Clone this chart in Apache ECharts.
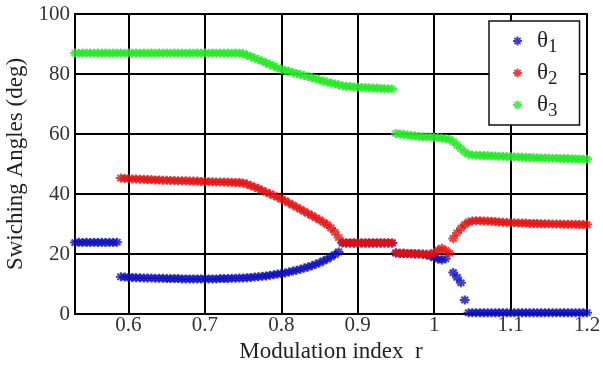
<!DOCTYPE html>
<html>
<head>
<meta charset="utf-8">
<script src="https://cdn.jsdelivr.net/npm/echarts@6/dist/echarts.min.js"></script>
<style>
html,body{margin:0;padding:0;background:#fff;}
#c{width:603px;height:366px;}
</style>
</head>
<body>
<div id="c"></div>
<script>
// Modulation index r (x values)
const r = [
  0.530,0.535,0.540,0.545,0.550,0.555,0.560,0.565,0.570,0.575,
  0.580,0.585,0.590,0.595,0.600,0.605,0.610,0.615,0.620,0.625,
  0.630,0.635,0.640,0.645,0.650,0.655,0.660,0.665,0.670,0.675,
  0.680,0.685,0.690,0.695,0.700,0.705,0.710,0.715,0.720,0.725,
  0.730,0.735,0.740,0.745,0.750,0.755,0.760,0.765,0.770,0.775,
  0.780,0.785,0.790,0.795,0.800,0.805,0.810,0.815,0.820,0.825,
  0.830,0.835,0.840,0.845,0.850,0.855,0.860,0.865,0.870,0.875,
  0.880,0.885,0.890,0.895,0.900,0.905,0.910,0.915,0.920,0.925,
  0.930,0.935,0.940,0.945,0.950,0.955,0.960,0.965,0.970,0.975,
  0.980,0.985,0.990,0.995,1.000,1.005,1.010,1.015,1.020,1.025,
  1.030,1.035,1.040,1.045,1.050,1.055,1.060,1.065,1.070,1.075,
  1.080,1.085,1.090,1.095,1.100,1.105,1.110,1.115,1.120,1.125,
  1.130,1.135,1.140,1.145,1.150,1.155,1.160,1.165,1.170,1.175,
  1.180,1.185,1.190,1.195,1.200
];
const theta1 = [
  23.8,23.9,23.8,23.9,23.8,23.9,23.8,23.9,23.8,23.9,
  23.8,23.9,12.4,12.3,12.2,12.2,12.1,12.1,12.0,12.0,
  12.0,11.9,11.9,11.9,11.8,11.8,11.8,11.8,11.7,11.7,
  11.7,11.7,11.7,11.7,11.7,11.7,11.7,11.7,11.8,11.8,
  11.8,11.9,11.9,12.0,12.0,12.1,12.2,12.3,12.4,12.6,
  12.7,12.9,13.1,13.3,13.5,13.7,14.0,14.3,14.6,14.9,
  15.3,15.7,16.1,16.6,17.1,17.7,18.3,19.0,19.8,20.7,
  23.7,23.7,23.7,23.7,23.7,23.7,23.7,23.7,23.7,23.7,
  23.7,23.7,23.7,23.7,20.3,20.2,20.2,20.1,20.1,20.0,
  20.0,19.9,19.7,19.3,18.8,18.3,18.0,18.4,null,13.8,
  12.2,10.4,4.7,0.4,0.4,0.4,0.4,0.4,0.4,0.4,
  0.4,0.4,0.4,0.4,0.4,0.4,0.4,0.4,0.4,0.4,
  0.4,0.4,0.4,0.4,0.4,0.4,0.4,0.4,0.4,0.4,
  0.4,0.4,0.4,0.4,0.4
];
const theta2 = [
  null,null,null,null,null,null,null,null,null,null,
  null,null,45.3,45.2,45.1,45.0,45.0,44.9,44.9,44.8,
  44.8,44.7,44.7,44.6,44.6,44.5,44.5,44.4,44.4,44.4,
  44.3,44.3,44.3,44.2,44.2,44.1,44.1,44.0,44.0,44.0,
  43.9,43.9,43.8,43.8,43.7,43.3,42.8,42.3,41.8,41.2,
  40.6,40.1,39.5,38.9,38.3,37.7,37.0,36.3,35.6,34.9,
  34.2,33.5,32.8,32.1,31.4,30.6,29.8,28.7,27.3,25.5,
  23.8,23.7,23.7,23.7,23.7,23.7,23.7,23.7,23.7,23.7,
  23.7,23.7,23.7,23.7,20.4,20.3,20.3,20.2,20.2,20.1,
  20.1,20.0,20.0,20.0,20.5,21.3,21.9,21.2,20.3,25.2,
  27.0,28.6,29.8,30.7,31.0,31.1,31.1,31.0,31.0,30.9,
  30.8,30.7,30.6,30.5,30.4,30.4,30.3,30.3,30.3,30.2,
  30.2,30.2,30.1,30.1,30.1,30.0,30.0,30.0,29.9,29.9,
  29.9,29.9,29.8,29.8,29.8
];
const theta3 = [
  87.0,86.9,87.0,86.9,87.0,86.9,87.0,86.9,87.0,86.9,
  87.0,86.9,87.0,86.9,87.0,86.9,87.0,86.9,87.0,86.9,
  87.0,86.9,87.0,86.9,87.0,86.9,87.0,86.9,87.0,86.9,
  87.0,86.9,87.0,86.9,87.0,86.9,87.0,86.9,87.0,86.9,
  87.0,86.9,87.0,86.9,86.8,86.3,85.8,85.3,84.8,84.3,
  83.7,83.2,82.7,82.1,81.6,81.2,80.9,80.5,80.2,79.8,
  79.5,79.1,78.8,78.4,78.0,77.7,77.3,77.0,76.7,76.4,
  76.1,75.9,75.8,75.7,75.6,75.5,75.5,75.4,75.3,75.3,
  75.2,75.1,75.1,75.0,60.2,60.0,59.8,59.7,59.5,59.4,
  59.2,59.1,59.0,59.0,58.9,58.8,58.6,58.4,58.2,57.5,
  56.3,55.2,54.0,53.2,53.0,52.9,52.9,52.8,52.8,52.7,
  52.7,52.6,52.6,52.5,52.4,52.4,52.3,52.3,52.2,52.2,
  52.1,52.1,52.0,52.0,52.0,51.9,51.9,51.8,51.8,51.8,
  51.7,51.7,51.7,51.6,51.6
];
const xTicks = [0.6, 0.7, 0.8, 0.9, 1.0, 1.1, 1.2];
const seriesNames = ['θ1', 'θ2', 'θ3'];
const seriesColors = ['#0c0cc0', '#e41010', '#22e822'];

const star = 'path://M3.9,0L6.1,0L6.1,10L3.9,10Z M0,3.9L10,3.9L10,6.1L0,6.1Z M0.8,2.3L2.3,0.8L9.2,7.7L7.7,9.2Z M7.7,0.8L9.2,2.3L2.3,9.2L0.8,7.7Z';
const serif = 'Liberation Serif';

function pairs(ys) { return r.map((x, i) => [x, ys[i]]); }
const allY = [theta1, theta2, theta3];

const chart = echarts.init(document.getElementById('c'), null, {renderer: 'canvas'});
chart.setOption({
  backgroundColor: '#fff',
  animation: false,
  grid: {left: 75, right: 16, top: 14, bottom: 52, show: true, borderColor: '#000', borderWidth: 2,
    containLabel: false, outerBoundsMode: 'none'},
  legend: {
    orient: 'vertical',
    left: 489, top: 21,
    padding: [8, 22, 4, 24],
    itemGap: 4,
    itemWidth: 9, itemHeight: 9,
    backgroundColor: '#fff',
    borderColor: '#111', borderWidth: 1.5, borderRadius: 0,
    icon: star,
    data: seriesNames,
    formatter: function (n) { return '{t|θ}{s|' + n.slice(1) + '}'; },
    textStyle: {
      padding: [0, 0, 0, 10],
      rich: {
        t: {fontFamily: serif, fontSize: 23, color: '#222', lineHeight: 22, verticalAlign: 'bottom'},
        s: {fontFamily: serif, fontSize: 19, color: '#222', lineHeight: 22, verticalAlign: 'bottom', padding: [0, 0, -5, 0]}
      }
    }
  },
  xAxis: {
    type: 'value', min: 0.53, max: 1.2,
    name: 'Modulation index  r', nameLocation: 'middle', nameGap: 14,
    nameTextStyle: {fontFamily: serif, fontSize: 23, color: '#222'},
    axisLine: {show: true, lineStyle: {color: '#000', width: 2}},
    axisTick: {show: false, customValues: xTicks},
    axisLabel: {customValues: xTicks, fontFamily: serif, fontSize: 21, color: '#333', margin: 1,
      formatter: v => String(+v.toFixed(1))},
    splitLine: {show: true, lineStyle: {color: '#000', width: 2}}
  },
  yAxis: {
    type: 'value', min: 0, max: 100, interval: 20,
    name: 'Swiching Angles (deg)', nameLocation: 'middle', nameGap: 34,
    nameTextStyle: {fontFamily: serif, fontSize: 23, color: '#222'},
    axisLine: {show: true, lineStyle: {color: '#000', width: 2}},
    axisTick: {show: false},
    axisLabel: {fontFamily: serif, fontSize: 21, color: '#333', margin: 5},
    splitLine: {show: true, lineStyle: {color: '#000', width: 2}}
  },
  series: seriesNames.map((n, k) => ({
    name: n, type: 'scatter',
    data: pairs(allY[k]),
    symbol: star, symbolSize: [10, 9],
    itemStyle: {color: seriesColors[k]},
    z: 2 + k
  }))
});
</script>
</body>
</html>
